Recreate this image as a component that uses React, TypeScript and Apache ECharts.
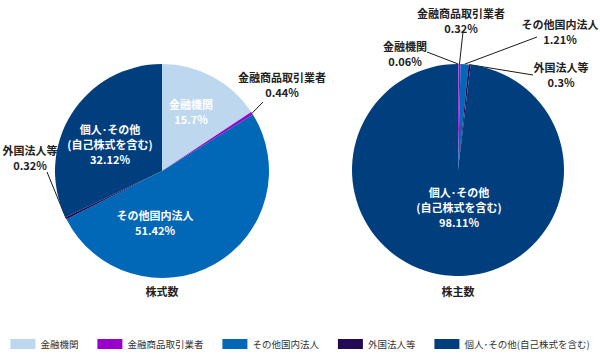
import React, { useEffect, useRef } from 'react';
import * as echarts from 'echarts';

// ---- data ----
const categories = ['金融機関', '金融商品取引業者', 'その他国内法人', '外国法人等', '個人･その他(自己株式を含む)'];
const labelNames = ['金融機関', '金融商品取引業者', 'その他国内法人', '外国法人等', '個人･その他\n(自己株式を含む)'];
const shareRatios = [15.7, 0.44, 51.42, 0.32, 32.12]; // 株式数
const holderRatios = [0.06, 0.32, 1.21, 0.3, 98.11]; // 株主数
const pieTitles = ['株式数', '株主数'];

// ---- styles / layout ----
const colors = ['#BDD7EE', '#9900CC', '#0068B7', '#220A55', '#003E7E'];
const FONT = '"Noto Sans CJK JP", "Noto Sans", sans-serif';

const PIES: any[] = [
  {
    values: shareRatios,
    cx: 162, cy: 171, r: 107,
    inside: [0, 2, 4],
    labels: { 0: [191, 111], 1: [282, 84], 2: [155, 222], 3: [30, 157], 4: [110, 144] },
    lineEnds: { 1: [263, 102], 3: [47, 172] },
  },
  {
    values: holderRatios,
    cx: 458, cy: 170, r: 106,
    inside: [4],
    labels: { 0: [405, 53], 1: [461, 20], 2: [560, 31], 3: [561, 74], 4: [459, 207] },
    lineEnds: { 0: [427, 52], 1: [463, 32], 2: [537, 37], 3: [533, 75] },
  },
];

export default function App() {
  const ref = useRef<HTMLDivElement>(null);
  useEffect(() => {
    if (!ref.current) return;
    const chart = echarts.init(ref.current, null, { renderer: 'svg' });
    const option: any = {
      animation: false,
      backgroundColor: '#ffffff',
      legend: {
        data: categories,
        top: 334,
        left: 'center',
        padding: [5, 0],
        icon: 'rect',
        itemWidth: 25,
        itemHeight: 10,
        itemGap: 19,
        selectedMode: false,
        textStyle: { fontFamily: FONT, fontSize: 9.5, color: '#333' },
      },
      graphic: PIES.map((p, i) => ({
        type: 'text',
        x: p.cx,
        y: 291,
        silent: true,
        style: {
          text: pieTitles[i],
          align: 'center',
          verticalAlign: 'middle',
          fontFamily: FONT,
          fontSize: 11,
          fontWeight: 'bold',
          fill: '#222',
        },
      })),
      series: PIES.map((p) => ({
        type: 'pie',
        center: [p.cx, p.cy],
        radius: p.r,
        startAngle: 90,
        clockwise: true,
        avoidLabelOverlap: false,
        emphasis: { disabled: true },
        label: {
          fontFamily: FONT,
          fontSize: 11,
          lineHeight: 15,
          fontWeight: 'bold',
          formatter: (params: any) => labelNames[params.dataIndex] + '\n' + params.value + '%',
        },
        labelLayout: (params: any) => {
          const pos = p.labels[params.dataIndex];
          const end = p.lineEnds[params.dataIndex];
          const res: any = { x: pos[0], y: pos[1], align: 'center', verticalAlign: 'middle' };
          if (end && params.labelLinePoints) {
            res.labelLinePoints = [params.labelLinePoints[0], end];
          }
          return res;
        },
        data: categories.map((name, i) => {
          const inside = p.inside.includes(i);
          return {
            name,
            value: p.values[i],
            itemStyle: { color: colors[i] },
            label: inside
              ? { position: 'inside', color: '#ffffff' }
              : { position: 'outside', color: '#222222' },
            labelLine: { show: !inside, length: 10, length2: 5, lineStyle: { color: '#1a1a1a', width: 1 } },
          };
        }),
      })),
    };
    chart.setOption(option);
    return () => chart.dispose();
  }, []);
  return (
    <div
      ref={ref}
      style={{ position: 'fixed', left: 0, top: 0, width: 600, height: 357, background: '#fff' }}
    />
  );
}
